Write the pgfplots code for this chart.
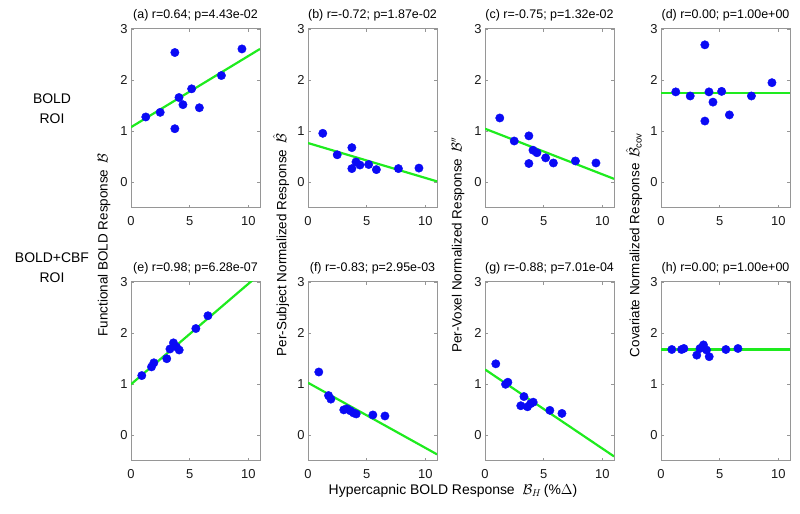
\documentclass[border=0pt]{standalone}
\usepackage{fontspec}
\setmainfont{Liberation Sans}
\usepackage{pgfplots}
\pgfplotsset{compat=1.18}

\definecolor{mblue}{RGB}{10,10,245}
\definecolor{mgreen}{RGB}{30,235,30}
\definecolor{boxgray}{RGB}{150,150,150}

\pgfplotsset{panel/.style={
    scale only axis, width=129bp, height=179bp, anchor=south west,
    xmin=0, xmax=11, ymin=-0.5, ymax=3,
    xtick={0,5,10}, ytick={0,1,2,3},
    axis line style={boxgray, line width=1bp},
    tick align=inside, major tick length=3bp,
    tick style={boxgray, line width=0.6bp},
    tick label style={font=\fontsize{13}{15}\selectfont, text=black!90},
    /pgf/number format/assume math mode=true,
    xticklabel style={yshift=-5bp},
    title style={font=\fontsize{12.5}{14}\selectfont, yshift=-2bp},
  },
  pts/.style={only marks, mark=*, mark size=4.2bp, mblue, mark options={draw=mblue, fill=mblue}},
  fit/.style={mgreen, line width=2.2bp},
}

\begin{document}
\begin{tikzpicture}[x=1bp, y=1bp]
\useasboundingbox (0,0) rectangle (800,514);

% top row: BOLD ROI
\begin{axis}[panel, at={(131bp,306bp)}, title={(a) r=0.64; p=4.43e-02}]
  \addplot[fit] coordinates {(0,1.08) (11,2.61)};
  \addplot[pts] coordinates {(1.26,1.28) (2.49,1.37) (3.74,2.54) (3.74,1.05) (4.09,1.66) (4.43,1.52) (5.17,1.83) (5.83,1.46) (7.71,2.09) (9.46,2.61)};
\end{axis}
\begin{axis}[panel, at={(308bp,306bp)}, title={(b) r=-0.72; p=1.87e-02}]
  \addplot[fit] coordinates {(0,0.77) (11,0.02)};
  \addplot[pts] coordinates {(1.26,0.96) (2.49,0.54) (3.74,0.68) (3.74,0.27) (4.09,0.40) (4.43,0.34) (5.17,0.35) (5.83,0.25) (7.71,0.27) (9.46,0.28)};
\end{axis}
\begin{axis}[panel, at={(485bp,306bp)}, title={(c) r=-0.75; p=1.32e-02}]
  \addplot[fit] coordinates {(0,1.05) (11,0.07)};
  \addplot[pts] coordinates {(1.26,1.26) (2.49,0.81) (3.74,0.91) (3.74,0.37) (4.09,0.63) (4.43,0.58) (5.17,0.48) (5.83,0.38) (7.71,0.42) (9.46,0.38)};
\end{axis}
\begin{axis}[panel, at={(661bp,306bp)}, title={(d) r=0.00; p=1.00e+00}]
  \addplot[fit] coordinates {(0,1.75) (11,1.75)};
  \addplot[pts] coordinates {(1.26,1.77) (2.49,1.69) (3.74,2.69) (3.74,1.20) (4.09,1.77) (4.43,1.57) (5.17,1.78) (5.83,1.32) (7.71,1.69) (9.46,1.95)};
\end{axis}

% bottom row: BOLD+CBF ROI
\begin{axis}[panel, at={(131bp,53bp)}, title={(e) r=0.98; p=6.28e-07}]
  \addplot[fit] coordinates {(0,1.00) (11,3.16)};
  \addplot[pts] coordinates {(0.92,1.17) (1.75,1.34) (1.95,1.42) (3.05,1.50) (3.32,1.69) (3.62,1.81) (3.88,1.73) (4.11,1.67) (5.53,2.09) (6.56,2.34)};
\end{axis}
\begin{axis}[panel, at={(308bp,53bp)}, title={(f) r=-0.83; p=2.95e-03}]
  \addplot[fit] coordinates {(0,1.03) (11,-0.37)};
  \addplot[pts] coordinates {(0.92,1.24) (1.75,0.78) (1.95,0.71) (3.05,0.50) (3.32,0.52) (3.62,0.48) (3.88,0.44) (4.11,0.42) (5.53,0.40) (6.56,0.38)};
\end{axis}
\begin{axis}[panel, at={(485bp,53bp)}, title={(g) r=-0.88; p=7.01e-04}]
  \addplot[fit] coordinates {(0,1.29) (11,-0.41)};
  \addplot[pts] coordinates {(0.92,1.40) (1.75,1.00) (1.95,1.04) (3.05,0.58) (3.32,0.76) (3.62,0.56) (3.88,0.62) (4.11,0.65) (5.53,0.49) (6.56,0.43)};
\end{axis}
\begin{axis}[panel, at={(661bp,53bp)}, title={(h) r=0.00; p=1.00e+00}]
  \addplot[fit] coordinates {(0,1.68) (11,1.68)};
  \addplot[pts] coordinates {(0.92,1.68) (1.75,1.68) (1.95,1.70) (3.05,1.57) (3.32,1.70) (3.62,1.77) (3.88,1.67) (4.11,1.54) (5.53,1.68) (6.56,1.70)};
\end{axis}

% shared labels
\begin{scope}[every node/.style={font=\fontsize{13.5}{15}\selectfont, rotate=90}]
  \node at (104,269) {Functional BOLD Response \,$\mathcal{B}$};
  \node at (281,269) {Per-Subject Normalized Response \,$\hat{\mathcal{B}}$};
  \node at (458,269) {Per-Voxel Normalized Response \,$\mathcal{B}''$};
  \node at (634,269) {Covariate Normalized Response \,$\hat{\mathcal{B}}_{\mathrm{cov}}$};
\end{scope}
\node[font=\fontsize{14}{20}\selectfont, align=center] at (52,405) {BOLD\\ROI};
\node[font=\fontsize{14}{20}\selectfont, align=center] at (52,246) {BOLD+CBF\\ROI};
\node[font=\fontsize{14}{16}\selectfont] at (453,23) {Hypercapnic BOLD Response \;$\mathcal{B}_H$\,(\%$\Delta$)};
\end{tikzpicture}
\end{document}
